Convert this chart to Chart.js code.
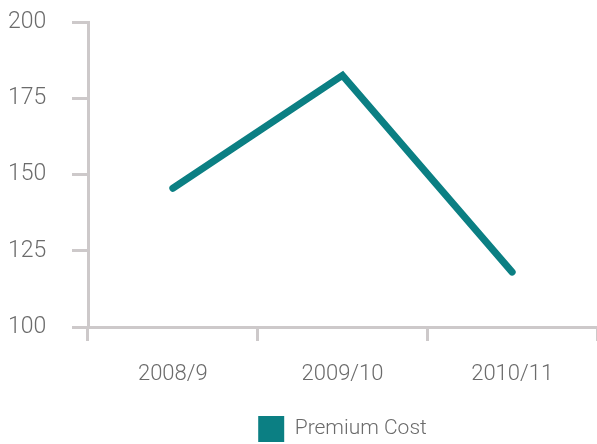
<!DOCTYPE html>
<html>
<head>
<meta charset="utf-8">
<script src="https://cdn.jsdelivr.net/npm/chart.js@4/dist/chart.umd.min.js"></script>
<style>
  html, body { margin: 0; padding: 0; background: #fff; }
  #wrap { width: 597px; height: 444px; }
</style>
</head>
<body>
<div id="wrap"><canvas id="chart"></canvas></div>
<script>
'use strict';

const years = ['2008/9', '2009/10', '2010/11'];
const premiumCost = [145.5, 182.5, 118];
const yTicks = [100, 125, 150, 175, 200];

const axisGrey = '#cdc9ca';
const textGrey = '#6b6b6b';
const teal = '#0b7f83';
const fontFamily = "'Roboto', sans-serif";

let canvasElem = document.getElementById('chart');

const data = {
  labels: years,
  datasets: [
    {
      label: 'Premium Cost',
      data: premiumCost,
      borderColor: teal,
      backgroundColor: teal,
      borderWidth: 7,
      borderCapStyle: 'round',
      borderJoinStyle: 'miter',
      pointRadius: 0,
      tension: 0,
    },
  ],
};

const config = {
  type: 'line',
  data: data,
  options: {
    responsive: true,
    maintainAspectRatio: false,
    animation: false,
    layout: { padding: { left: 8, right: 0, top: 22, bottom: -8 } },
    plugins: {
      tooltip: { enabled: false },
      legend: {
        position: 'bottom',
        fullSize: false,
        labels: {
          boxWidth: 26,
          boxHeight: 26,
          padding: 2,
          color: textGrey,
          font: { family: fontFamily, size: 21, weight: 300 },
          generateLabels: (chart) => chart.data.datasets.map((ds, i) => ({
            text: ds.label,
            fillStyle: ds.borderColor,
            strokeStyle: ds.borderColor,
            lineWidth: 0,
            fontColor: textGrey,
            datasetIndex: i,
          })),
        },
      },
    },
    scales: {
      x: {
        offset: true,
        afterFit: (axis) => { axis.height = 87; },
        border: { color: axisGrey, width: 3 },
        grid: {
          offset: true,
          drawOnChartArea: false,
          tickLength: 14,
          tickWidth: 3,
          tickColor: axisGrey,
        },
        ticks: {
          color: textGrey,
          padding: 20,
          font: { family: fontFamily, size: 22, weight: 300 },
        },
      },
      y: {
        min: 100,
        max: 200,
        afterBuildTicks: (axis) => { axis.ticks = yTicks.map(v => ({ value: v })); },
        afterFit: (axis) => { axis.width = 80; },
        border: { color: axisGrey, width: 3 },
        grid: {
          drawOnChartArea: false,
          tickLength: 16,
          tickWidth: 3,
          tickColor: axisGrey,
        },
        ticks: {
          color: textGrey,
          padding: 0,
          crossAlign: 'far',
          font: { family: fontFamily, size: 23, weight: 300 },
        },
      },
    },
  },
};

new Chart(canvasElem, config);
</script>
</body>
</html>
